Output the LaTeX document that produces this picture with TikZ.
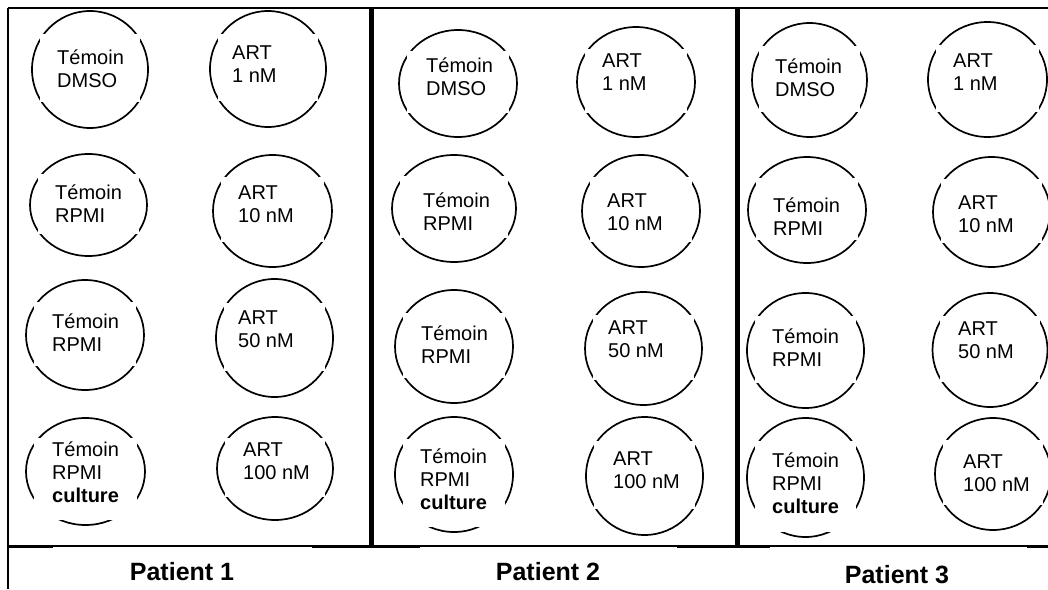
\documentclass[tikz,border=0pt]{standalone}
\usepackage{fontspec}
\setmainfont{Liberation Sans}
\tikzset{
  wellrim/.style={draw=black, line width=1.7pt},
  wellgap/.style={fill=white, draw=none},
  welltext/.style={anchor=base west, inner sep=0pt, font=\fontsize{20}{23}\selectfont},
  patient/.style={anchor=base, inner sep=0pt, font=\fontsize{25}{28}\selectfont\bfseries},
  frame/.style={draw=black, line width=1.9pt},
  divider/.style={draw=black, line width=4.6pt}
}
% well: name, cx, cy, rx, ry, text dx, text dy, lines
\newcommand\well[8]{%
  \draw[wellrim] (#2,#3) ellipse [x radius=#4, y radius=#5];
  \fill[wellgap] (#2-0.87*#4,#3-0.6*#5) rectangle (#2+0.87*#4,#3+0.56*#5);
  \node[welltext] (#1) at (#2+#6,#3+#7) {\begin{tabular}[t]{@{}l@{}}#8\end{tabular}};
}
% well with a three-line label (the gap reaches lower)
\newcommand\wellc[8]{%
  \draw[wellrim] (#2,#3) ellipse [x radius=#4, y radius=#5];
  \fill[wellgap] (#2-0.87*#4,#3-0.62*#5) rectangle (#2+0.87*#4,#3+0.915*#5);
  \node[welltext] (#1) at (#2+#6,#3+#7) {\begin{tabular}[t]{@{}l@{}}#8\end{tabular}};
}
\begin{document}
\begin{tikzpicture}[x=1pt, y=-1pt]
\useasboundingbox (0,0) rectangle (1048,589);
\clip (0,0) rectangle (1048,589);
\fill[white] (0,0) rectangle (1048,589);

% Patient 1
\well{p1a}{90}{69.5}{58}{58.5}{-33}{-5.5}{Témoin\\DMSO}
\well{p1b}{268}{69}{58}{58}{-36}{-10}{ART\\1 nM}
\well{p1c}{88.5}{205}{58.5}{51}{-33.5}{-6}{Témoin\\RPMI}
\well{p1d}{272.5}{211}{59.5}{56}{-34.5}{-12}{ART\\10 nM}
\well{p1e}{85}{335}{59}{55}{-33}{-7}{Témoin\\RPMI}
\well{p1f}{274.5}{338}{58.5}{59}{-36.5}{-14}{ART\\50 nM}
\wellc{p1g}{85.5}{471.5}{59.5}{53.5}{-33.5}{-15.5}{Témoin\\RPMI\\\textbf{culture}}
\well{p1h}{275}{468.5}{58}{51.5}{-32}{-12.5}{ART\\100 nM}

% Patient 2
\well{p2a}{458}{83.5}{59}{53.5}{-32}{-11.5}{Témoin\\DMSO}
\well{p2b}{636}{82}{59}{55}{-34}{-15}{ART\\1 nM}
\well{p2c}{454}{208.5}{62}{53.5}{-31}{-1.5}{Témoin\\RPMI}
\well{p2d}{641}{211}{59}{56}{-34}{-4}{ART\\10 nM}
\well{p2e}{454}{346.5}{59}{56.5}{-33}{-6.5}{Témoin\\RPMI}
\well{p2f}{643.5}{348.5}{58.5}{56.5}{-35.5}{-14.5}{ART\\50 nM}
\wellc{p2g}{454}{474.5}{59}{57.5}{-34}{-11.5}{Témoin\\RPMI\\\textbf{culture}}
\well{p2h}{644.5}{476}{58.5}{59}{-31.5}{-11}{ART\\100 nM}

% Patient 3
\well{p3a}{809.5}{80}{57.5}{57}{-34.5}{-7}{Témoin\\DMSO}
\well{p3b}{987.5}{79.5}{59.5}{57.5}{-34.5}{-12.5}{ART\\1 nM}
\well{p3c}{807}{210}{59}{53}{-34}{2}{Témoin\\RPMI}
\well{p3d}{991.5}{212}{58.5}{55}{-33.5}{-3}{ART\\10 nM}
\well{p3e}{805.5}{350.5}{58.5}{57.5}{-33.5}{-7.5}{Témoin\\RPMI}
\well{p3f}{990}{350}{57.5}{57}{-32}{-15}{ART\\50 nM}
\wellc{p3g}{805.5}{477.5}{58.5}{59.5}{-33.5}{-10.5}{Témoin\\RPMI\\\textbf{culture}}
\well{p3h}{993}{474}{58}{56}{-30}{-6}{ART\\100 nM}

% table frame
\draw[frame] (8,8) -- (1048,8);
\draw[frame] (8,8) -- (8,589);
\draw[frame] (8,546) -- (1048,546);
\draw[frame] (8,547.5) -- (53,547.5);
\draw[frame] (312,547.5) -- (420,547.5);
\draw[frame] (677,547.5) -- (770,547.5);
\draw[frame] (1027,547.5) -- (1048,547.5);
\draw[divider] (371.5,8) -- (371.5,546);
\draw[divider] (737.5,8) -- (737.5,546);

% column captions
\node[patient] (pat1) at (182,580) {Patient 1};
\node[patient] (pat2) at (548,580) {Patient 2};
\node[patient] (pat3) at (897,583) {Patient 3};
\end{tikzpicture}
\end{document}
